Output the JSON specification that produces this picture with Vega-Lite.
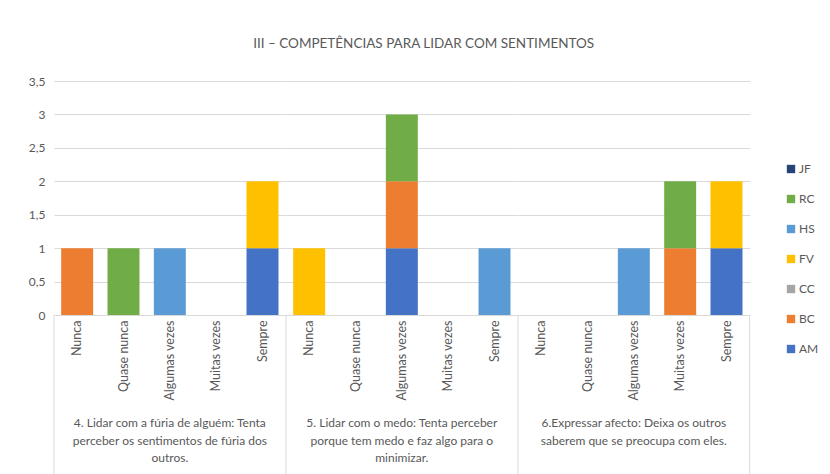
{
  "$schema": "https://vega.github.io/schema/vega-lite/v6.json",
  "padding": {"left": 28, "top": 36, "right": 5, "bottom": 0},
  "background": "white",
  "bounds": "flush",
  "title": {"text": "III – COMPETÊNCIAS PARA LIDAR COM SENTIMENTOS", "fontSize": 13.5, "fontWeight": "normal", "color": "#595959", "font": "Lato", "offset": 25, "anchor": "middle"},
  "data": {"values": [
    {"kind": "bar", "group": "4. Lidar com a fúria de alguém: Tenta|perceber os sentimentos de fúria dos|outros.", "cat": "Nunca", "series": "BC", "value": 1},
    {"kind": "bar", "group": "4. Lidar com a fúria de alguém: Tenta|perceber os sentimentos de fúria dos|outros.", "cat": "Quase nunca", "series": "RC", "value": 1},
    {"kind": "bar", "group": "4. Lidar com a fúria de alguém: Tenta|perceber os sentimentos de fúria dos|outros.", "cat": "Algumas vezes", "series": "HS", "value": 1},
    {"kind": "bar", "group": "4. Lidar com a fúria de alguém: Tenta|perceber os sentimentos de fúria dos|outros.", "cat": "Sempre", "series": "AM", "value": 1},
    {"kind": "bar", "group": "4. Lidar com a fúria de alguém: Tenta|perceber os sentimentos de fúria dos|outros.", "cat": "Sempre", "series": "FV", "value": 1},
    {"kind": "bar", "group": "5. Lidar com o medo: Tenta perceber|porque tem medo e faz algo para o|minimizar.", "cat": "Nunca", "series": "FV", "value": 1},
    {"kind": "bar", "group": "5. Lidar com o medo: Tenta perceber|porque tem medo e faz algo para o|minimizar.", "cat": "Algumas vezes", "series": "AM", "value": 1},
    {"kind": "bar", "group": "5. Lidar com o medo: Tenta perceber|porque tem medo e faz algo para o|minimizar.", "cat": "Algumas vezes", "series": "BC", "value": 1},
    {"kind": "bar", "group": "5. Lidar com o medo: Tenta perceber|porque tem medo e faz algo para o|minimizar.", "cat": "Algumas vezes", "series": "RC", "value": 1},
    {"kind": "bar", "group": "5. Lidar com o medo: Tenta perceber|porque tem medo e faz algo para o|minimizar.", "cat": "Sempre", "series": "HS", "value": 1},
    {"kind": "bar", "group": "6.Expressar afecto: Deixa os outros|saberem que se preocupa com eles.", "cat": "Algumas vezes", "series": "HS", "value": 1},
    {"kind": "bar", "group": "6.Expressar afecto: Deixa os outros|saberem que se preocupa com eles.", "cat": "Muitas vezes", "series": "BC", "value": 1},
    {"kind": "bar", "group": "6.Expressar afecto: Deixa os outros|saberem que se preocupa com eles.", "cat": "Muitas vezes", "series": "RC", "value": 1},
    {"kind": "bar", "group": "6.Expressar afecto: Deixa os outros|saberem que se preocupa com eles.", "cat": "Sempre", "series": "AM", "value": 1},
    {"kind": "bar", "group": "6.Expressar afecto: Deixa os outros|saberem que se preocupa com eles.", "cat": "Sempre", "series": "FV", "value": 1},
    {"kind": "sep", "group": "4. Lidar com a fúria de alguém: Tenta|perceber os sentimentos de fúria dos|outros.", "edge": 0},
    {"kind": "sep", "group": "5. Lidar com o medo: Tenta perceber|porque tem medo e faz algo para o|minimizar.", "edge": 0},
    {"kind": "sep", "group": "6.Expressar afecto: Deixa os outros|saberem que se preocupa com eles.", "edge": 0},
    {"kind": "sep", "group": "6.Expressar afecto: Deixa os outros|saberem que se preocupa com eles.", "edge": 1}
  ]},
  "facet": {"column": {"field": "group", "type": "nominal", "title": null,
    "header": {"labelOrient": "bottom", "labelExpr": "split(datum.value, '|')", "labelFontSize": 12, "labelFont": "Lato", "labelColor": "#595959", "labelLineHeight": 17.5, "labelPadding": 103, "labelBaseline": "top"}}},
  "spacing": 0,
  "resolve": {"scale": {"x": "independent"}},
  "spec": {
    "width": 231.67,
    "height": 234,
    "layer": [
      {
        "transform": [{"filter": "datum.kind == 'bar'"}],
        "mark": {"type": "bar"},
        "encoding": {
          "x": {"field": "cat", "type": "nominal", "sort": null,
            "scale": {"domain": ["Nunca", "Quase nunca", "Algumas vezes", "Muitas vezes", "Sempre"], "paddingInner": 0.31, "paddingOuter": 0.155},
            "axis": {"title": null, "labelAngle": -90, "ticks": false, "domainColor": "#D9D9D9", "labelColor": "#595959", "labelFontSize": 12.5, "labelFont": "Lato", "labelPadding": 5}},
          "y": {"field": "value", "type": "quantitative", "stack": "zero",
            "scale": {"domain": [0, 3.5], "nice": false},
            "axis": {"title": null, "values": [0, 0.5, 1, 1.5, 2, 2.5, 3, 3.5], "labelExpr": "replace(format(datum.value, '~g'), '.', ',')", "domain": false, "ticks": false, "gridColor": "#D9D9D9", "labelColor": "#595959", "labelFontSize": 12, "labelFont": "Lato", "labelPadding": 9}},
          "color": {"field": "series", "type": "nominal",
            "scale": {"domain": ["JF", "RC", "HS", "FV", "CC", "BC", "AM"], "range": ["#264478", "#70AD47", "#5B9BD5", "#FFC000", "#A5A5A5", "#ED7D31", "#4472C4"]},
            "legend": {"title": null, "orient": "none", "legendX": 731, "legendY": 82, "symbolType": "square", "symbolSize": 70, "symbolStrokeWidth": 0, "labelFontSize": 12, "labelFont": "Lato", "labelColor": "#595959", "rowPadding": 18, "labelOffset": 2}},
          "order": {"field": "series", "sort": "ascending"}
        }
      },
      {
        "transform": [{"filter": "datum.kind == 'sep'"}],
        "mark": {"type": "rule", "color": "#D9D9D9", "strokeWidth": 1, "clip": false},
        "encoding": {
          "x": {"field": "edge", "type": "quantitative", "scale": {"domain": [0, 1], "nice": false}, "axis": null},
          "y": {"datum": 0, "type": "quantitative",
            "axis": {"title": null, "values": [0, 0.5, 1, 1.5, 2, 2.5, 3, 3.5], "labelExpr": "replace(format(datum.value, '~g'), '.', ',')", "domain": false, "ticks": false, "gridColor": "#D9D9D9", "labelColor": "#595959", "labelFontSize": 12, "labelFont": "Lato", "labelPadding": 9}},
          "y2": {"datum": -2.4}
        }
      }
    ],
    "resolve": {"scale": {"x": "independent"}}
  },
  "config": {"view": {"stroke": null}, "axis": {"gridColor": "#D9D9D9"}}
}
